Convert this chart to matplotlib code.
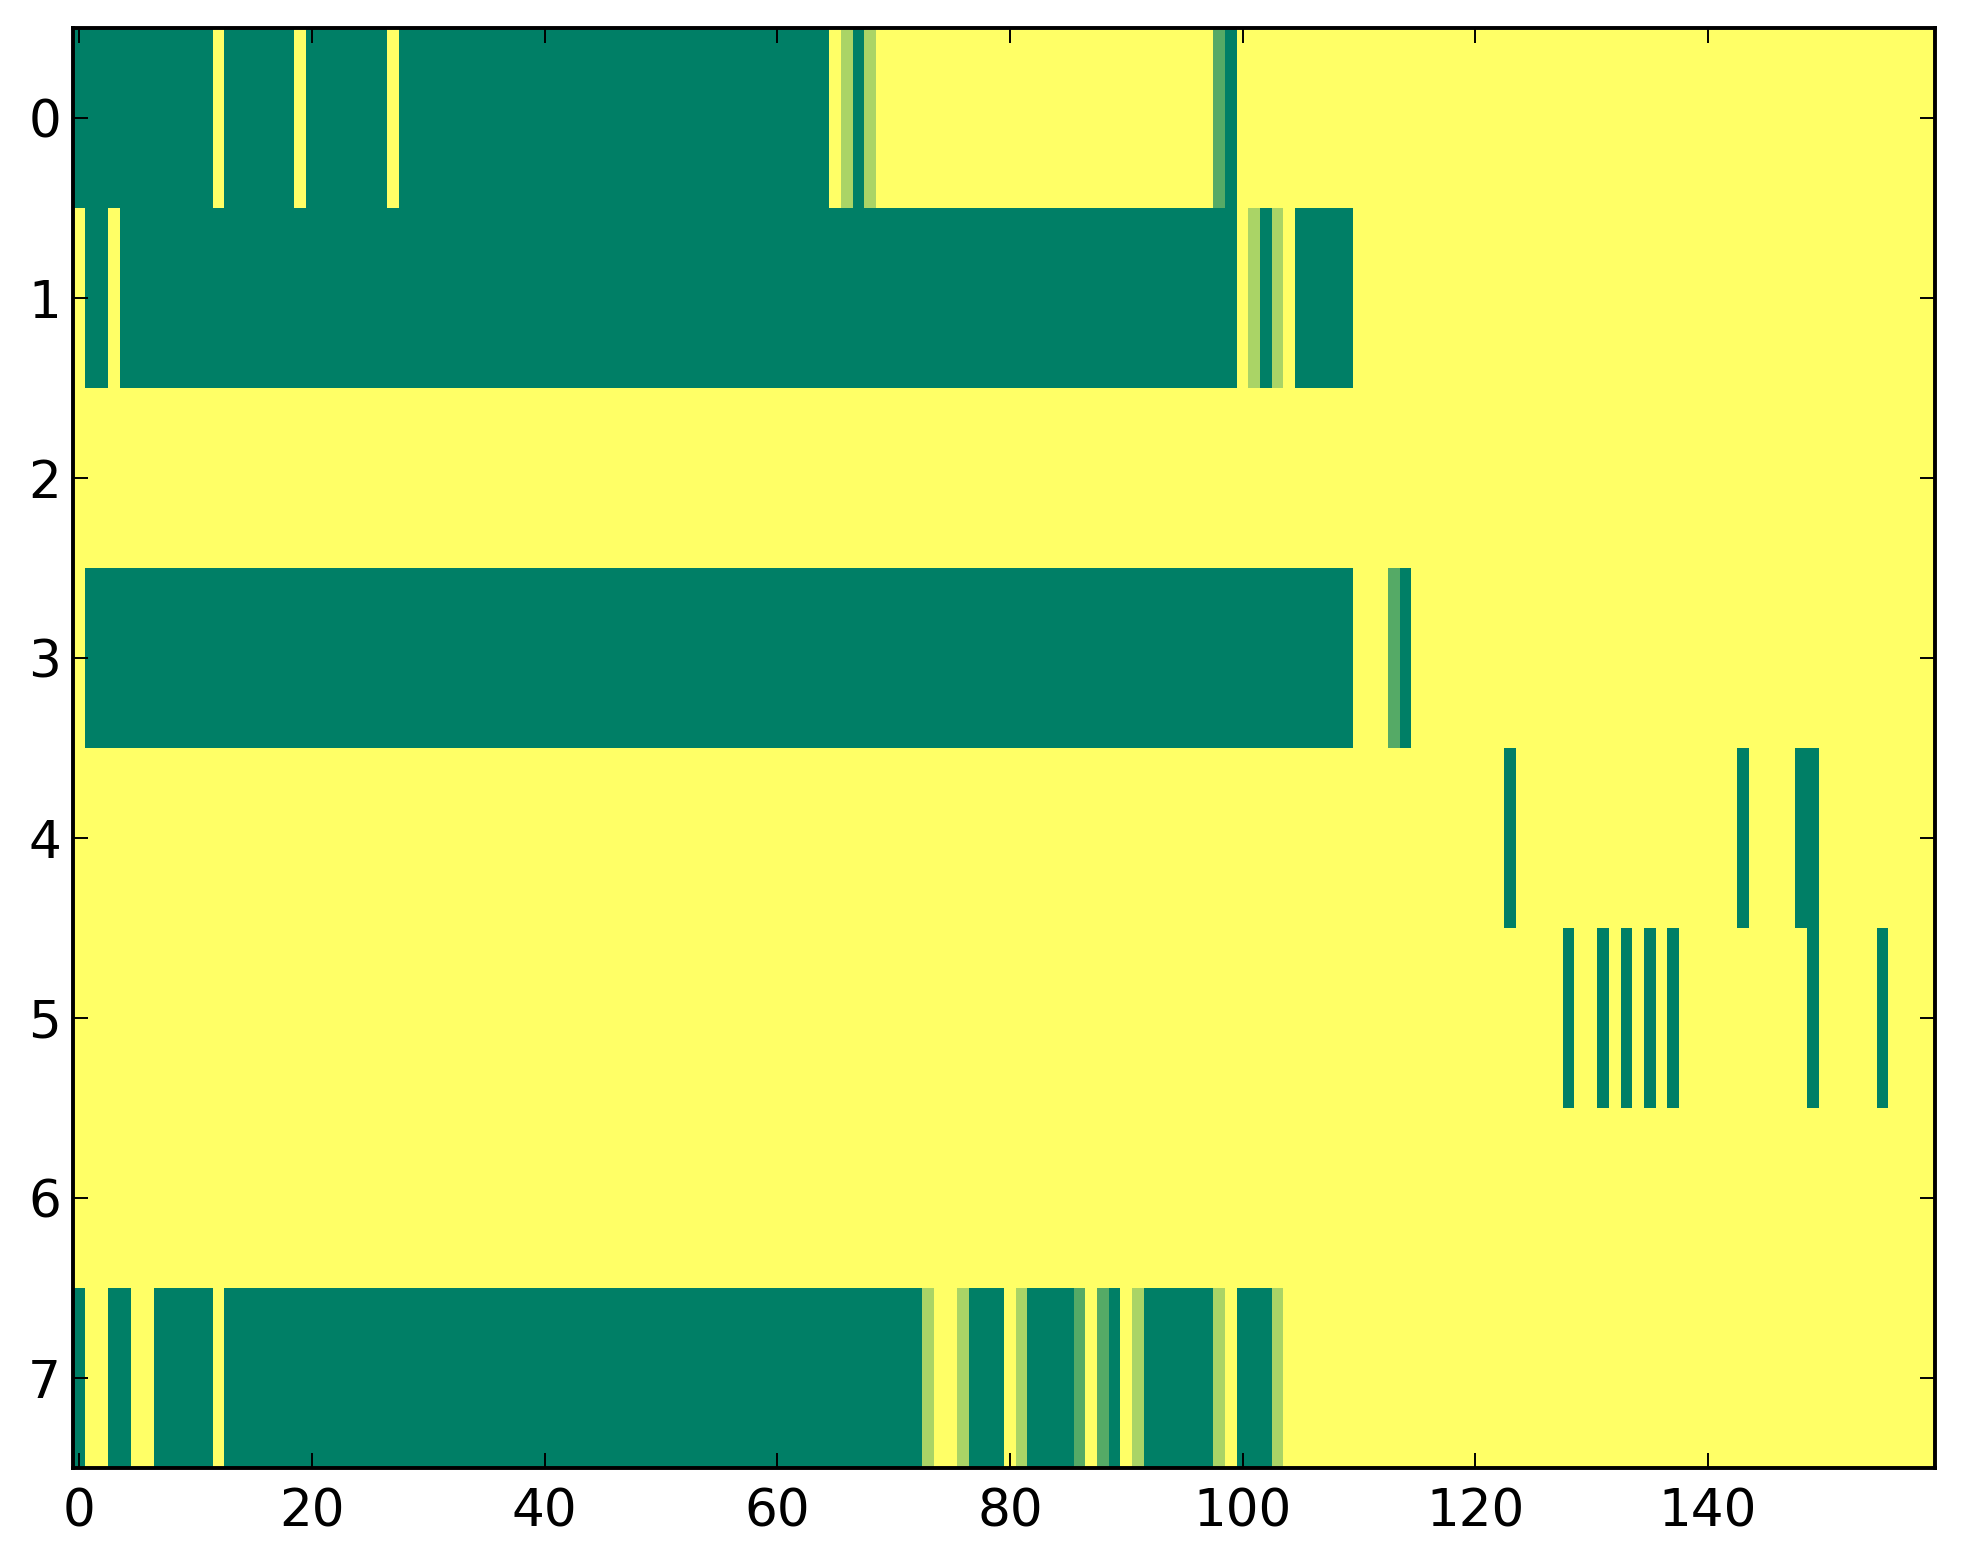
import numpy as np
import matplotlib
matplotlib.use('Agg')
import matplotlib.pyplot as plt

# cell levels: 0 dark green, 1/3, 2/3, 1 yellow (summer colormap)
M = 1 / 3
L = 2 / 3

# each row as (value, run length) pairs, 160 columns per row
row0 = [(0, 12), (1, 1), (0, 6), (1, 1), (0, 7), (1, 1), (0, 37), (1, 1), (L, 1),
        (0, 1), (L, 1), (1, 29), (M, 1), (0, 1), (1, 60)]
row1 = [(1, 1), (0, 2), (1, 1), (0, 96), (1, 1), (L, 1), (0, 1), (L, 1), (1, 1),
        (0, 5), (1, 50)]
row2 = [(1, 160)]
row3 = [(1, 1), (0, 109), (1, 3), (M, 1), (0, 1), (1, 45)]
row4 = [(1, 123), (0, 1), (1, 19), (0, 1), (1, 4), (0, 2), (1, 10)]
row5 = [(1, 128), (0, 1), (1, 2), (0, 1), (1, 1), (0, 1), (1, 1), (0, 1), (1, 1),
        (0, 1), (1, 11), (0, 1), (1, 5), (0, 1), (1, 4)]
row6 = [(1, 160)]
row7 = [(0, 1), (1, 2), (0, 2), (1, 2), (0, 5), (1, 1), (0, 60), (L, 1), (1, 2),
        (L, 1), (0, 3), (1, 1), (L, 1), (0, 4), (M, 1), (1, 1), (M, 1), (0, 1),
        (1, 1), (L, 1), (0, 6), (L, 1), (1, 1), (0, 3), (L, 1), (1, 56)]
rows = [row0, row1, row2, row3, row4, row5, row6, row7]


def expand(runs):
    vals = [v for v, n in runs]
    counts = [n for v, n in runs]
    return np.repeat(vals, counts)


data = np.vstack([expand(r) for r in rows])

fig = plt.figure(figsize=(9.815, 7.82), dpi=200)
ax = fig.add_axes([0.0374, 0.0614, 0.9483, 0.9204])
ax.imshow(data, cmap='summer', vmin=0, vmax=1, aspect='auto', interpolation='nearest')

ax.set_xticks(np.arange(0, 160, 20))
ax.set_yticks(np.arange(8))
ax.tick_params(direction='in', top=True, right=True, length=5.3, width=0.7,
               labelsize=18.6)
ax.tick_params(axis='x', pad=7)
ax.tick_params(axis='y', pad=4.5)
for s in ax.spines.values():
    s.set_linewidth(1.4)

fig.savefig('out.png', dpi=200)
